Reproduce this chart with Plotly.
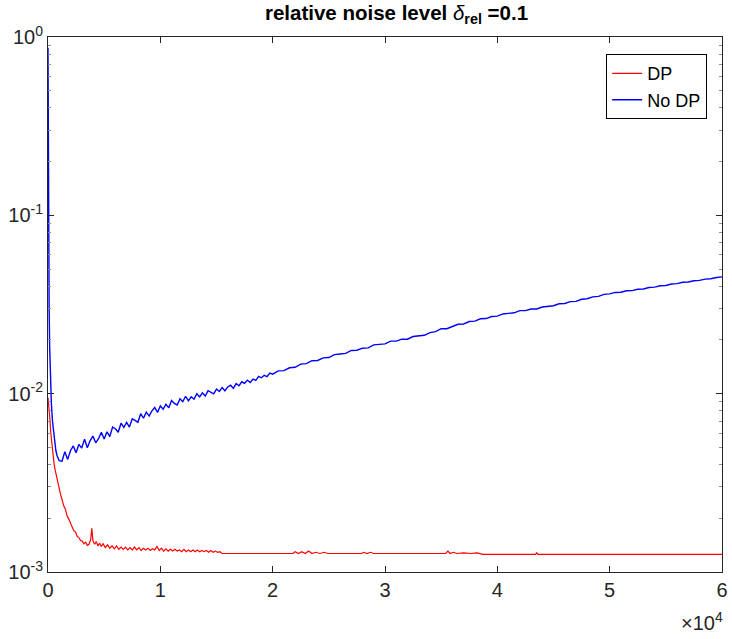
import plotly.graph_objects as go

# ---------------- data ----------------
dp_x = [0, 80, 150, 250, 350, 450, 550, 650, 800, 950, 1100, 1250, 1400,
        1550, 1700, 1850, 2000, 2150, 2300, 2450, 2600, 2750, 2900, 3050, 3200, 3350,
        3500, 3650, 3800, 3900, 4000, 4150, 4300, 4450, 4600, 4750, 4900, 5100, 5300,
        5500, 5700, 5900, 6100, 6300, 6500, 6700, 6900, 7100, 7300, 7500, 7700, 7900,
        8100, 8300, 8500, 8700, 8900, 9100, 9300, 9500, 9700, 9900, 10100, 10300,
        10500, 10700, 10900, 11100, 11300, 11500, 11700, 11900, 12100, 12300, 12500,
        12700, 12900, 13100, 13300, 13500, 13700, 13900, 14100, 14300, 14500, 14700,
        14900, 15100, 15300, 15500, 21800, 22000, 22300, 22600, 22900, 23200, 23500,
        23800, 24200, 24600, 24900, 27900, 28100, 28400, 28700, 29000, 35400, 35600,
        35800, 36100, 36400, 37000, 37600, 38200, 38700, 43400, 43500, 43600, 60000]
dp_y = [0.0095, 0.0085, 0.0075, 0.0060, 0.0051, 0.0045, 0.0040, 0.0037,
        0.0033, 0.0030, 0.00275, 0.00255, 0.00235, 0.00225, 0.00206, 0.00198, 0.00188,
        0.00182, 0.00170, 0.00168, 0.00158, 0.00156, 0.00150, 0.00149, 0.00144, 0.00147,
        0.00141, 0.00143, 0.00152, 0.00176, 0.00150, 0.00143, 0.00148, 0.00140, 0.00145,
        0.00139, 0.00144, 0.00137, 0.00142, 0.00136, 0.00140, 0.00135, 0.00140, 0.00134,
        0.00138, 0.00134, 0.00138, 0.00133, 0.00137, 0.00133, 0.00138, 0.00133, 0.00137,
        0.00132, 0.00136, 0.00133, 0.00136, 0.00132, 0.00135, 0.00133, 0.00139, 0.00132,
        0.00136, 0.00131, 0.00135, 0.00131, 0.00134, 0.00131, 0.00134, 0.00131, 0.00133,
        0.00130, 0.00134, 0.00130, 0.00133, 0.00130, 0.00133, 0.00130, 0.00133, 0.00130,
        0.00132, 0.00130, 0.00132, 0.00129, 0.00132, 0.00129, 0.00131, 0.00129, 0.00130,
        0.00127, 0.00127, 0.00130, 0.00127, 0.00130, 0.00127, 0.00131, 0.00127, 0.00129,
        0.00127, 0.00129, 0.00127, 0.00127, 0.00129, 0.00127, 0.00129, 0.00127, 0.00127,
        0.00131, 0.00127, 0.00129, 0.00127, 0.00128, 0.00127, 0.00128, 0.001255, 0.001255,
        0.00128, 0.001255, 0.001255]

nodp_x = [0, 20, 50, 100, 150, 200, 300, 400, 500, 600, 700, 800, 900,
          1000, 1250, 1500, 1750, 2000, 2250, 2500, 2750, 3000, 3250, 3500, 3750, 4000,
          4250, 4500, 4750, 5000, 5250, 5500, 5750, 6000, 6250, 6500, 6750, 7000, 7250,
          7500, 7750, 8000, 8250, 8500, 8750, 9000, 9250, 9500, 9750, 10000, 10250,
          10500, 10750, 11000, 11250, 11500, 11750, 12000, 12250, 12500, 12750, 13000,
          13250, 13500, 13750, 14000, 14250, 14500, 14750, 15000, 15250, 15500, 15750,
          16000, 16250, 16500, 16750, 17000, 17250, 17500, 17750, 18000, 18250, 18500,
          18750, 19000, 19250, 19500, 19750, 20000,
          20500, 21000, 21500, 22000, 22500, 23000, 23500, 24000, 24500, 25000, 25500,
          26000, 26500, 27000, 27500, 28000, 28500, 29000, 29500, 30000, 30500, 31000,
          31500, 32000, 32500, 33000, 33500, 34000, 34500, 35000, 35500, 36000, 36500,
          37000, 37500, 38000, 38500, 39000, 39500, 40000, 40500, 41000, 41500, 42000,
          42500, 43000, 43500, 44000, 44500, 45000, 45500, 46000, 46500, 47000, 47500,
          48000, 48500, 49000, 49500, 50000, 50500, 51000, 51500, 52000, 52500, 53000,
          53500, 54000, 54500, 55000, 55500, 56000, 56500, 57000, 57500, 58000, 58500,
          59000, 59500, 60000]
nodp_y = [0.87, 0.25, 0.08, 0.03, 0.018, 0.0125, 0.0088, 0.0070, 0.0060, 0.0053, 0.0048,
          0.0045, 0.0043,
          0.00421, 0.00418, 0.00473, 0.00428, 0.00479, 0.00509, 0.00466, 0.00520, 0.00495,
          0.00556, 0.00498, 0.00545, 0.00578, 0.00530, 0.00559, 0.00607, 0.00557, 0.00611,
          0.00575, 0.00649, 0.00636, 0.00608, 0.00683, 0.00647, 0.00690, 0.00649, 0.00723,
          0.00708, 0.00691, 0.00772, 0.00728, 0.00788, 0.00749, 0.00801, 0.00837, 0.00785,
          0.00855, 0.00818, 0.00872, 0.00833, 0.00915, 0.00881, 0.00864, 0.00937, 0.00902,
          0.00967, 0.00912, 0.00960, 0.00931, 0.00999, 0.00960, 0.01010, 0.00970, 0.01040,
          0.01020, 0.00999, 0.01061, 0.01029, 0.01081, 0.01038, 0.01091, 0.01115, 0.01072,
          0.01140, 0.01107, 0.01166, 0.01143, 0.01191, 0.01156, 0.01207, 0.01186, 0.01250,
          0.01228, 0.01268, 0.01245, 0.01304, 0.01287,
          0.01343, 0.01346, 0.01397, 0.01406, 0.01465, 0.01473, 0.01530, 0.01535, 0.01588,
          0.01594, 0.01656, 0.01670, 0.01683, 0.01747, 0.01751, 0.01799, 0.01807, 0.01879,
          0.01890, 0.01901, 0.01970, 0.01970, 0.02020, 0.02020, 0.02091, 0.02100, 0.02124,
          0.02201, 0.02229, 0.02313, 0.02312, 0.02380, 0.02449, 0.02460, 0.02538, 0.02552,
          0.02631, 0.02637, 0.02708, 0.02721, 0.02799, 0.02820, 0.02840, 0.02920, 0.02920,
          0.02985, 0.02984, 0.03061, 0.03085, 0.03111, 0.03194, 0.03204, 0.03281, 0.03290,
          0.03385, 0.03406, 0.03489, 0.03512, 0.03603, 0.03625, 0.03695, 0.03705, 0.03779,
          0.03785, 0.03852, 0.03864, 0.03941, 0.03958, 0.04031, 0.04044, 0.04121, 0.04138,
          0.04212, 0.04227, 0.04298, 0.04317, 0.04388, 0.04407, 0.04483, 0.0452]

series_names = ["DP", "No DP"]
x_tick_vals = [0, 10000, 20000, 30000, 40000, 50000, 60000]
x_tick_text = ["0", "1", "2", "3", "4", "5", "6"]
y_tick_vals = [0.001, 0.01, 0.1, 1]
y_tick_text = ["10<sup>-3</sup>", "10<sup>-2</sup>", "10<sup>-1</sup>", "10<sup>0</sup>"]

FONT = "Liberation Sans, Arial, Helvetica, sans-serif"
AX = "#262626"
FIG_W, FIG_H = 732, 639

fig = go.Figure()
fig.add_trace(go.Scatter(x=dp_x, y=dp_y, mode="lines", name=series_names[0],
                         line=dict(color="#ff0000", width=1.2)))
fig.add_trace(go.Scatter(x=nodp_x, y=nodp_y, mode="lines", name=series_names[1],
                         line=dict(color="#0000ff", width=1.4)))

fig.update_layout(
    width=FIG_W, height=FIG_H,
    margin=dict(l=48, r=10, t=37, b=67, autoexpand=False),
    paper_bgcolor="white", plot_bgcolor="white",
    font=dict(family=FONT, size=20, color=AX),
    title=dict(
        text="<b>relative noise level </b><i>δ</i><b><sub>rel</sub> =0.1</b>",
        x=396.5 / FIG_W, xanchor="center",
        yref="container", y=1 - 13 / FIG_H, yanchor="middle",
        font=dict(family=FONT, size=20.5, color="#000000"),
    ),
    showlegend=True,
    legend=dict(
        x=0.978, y=0.968, xanchor="right", yanchor="top",
        bgcolor="white", bordercolor="#000000", borderwidth=1,
        font=dict(family=FONT, size=18, color="#000000"),
        tracegroupgap=0, itemwidth=30,
    ),
)

fig.update_xaxes(
    range=[0, 60000], tickvals=x_tick_vals, ticktext=x_tick_text,
    showgrid=False, zeroline=False, automargin=False,
    showline=True, linecolor=AX, linewidth=1, mirror="ticks",
    ticks="inside", ticklen=6, tickcolor=AX, tickwidth=1,
    tickfont=dict(family=FONT, size=20, color=AX),
)
fig.update_yaxes(
    type="log", range=[-3, 0], tickvals=y_tick_vals, ticktext=y_tick_text,
    showgrid=False, zeroline=False, automargin=False,
    showline=True, linecolor=AX, linewidth=1, mirror="ticks",
    ticks="inside", ticklen=6, tickcolor=AX, tickwidth=1,
    tickfont=dict(family=FONT, size=20, color=AX),
    minor=dict(ticks="inside", ticklen=3, dtick="D1", tickcolor="#8c8c8c",
               showgrid=False),
)

fig.add_annotation(
    text="×10<sup>4</sup>", xref="paper", yref="paper",
    x=1.0, xshift=3, y=-0.092, xanchor="right", yanchor="middle", showarrow=False,
    font=dict(family=FONT, size=20, color=AX),
)

# Remove the browser's default 8px body margin so the figure fills the window exactly.
fig.write_html("out.html",
               config={"displayModeBar": False, "staticPlot": True},
               post_script="document.body.style.margin='0';document.body.style.overflow='hidden';")
